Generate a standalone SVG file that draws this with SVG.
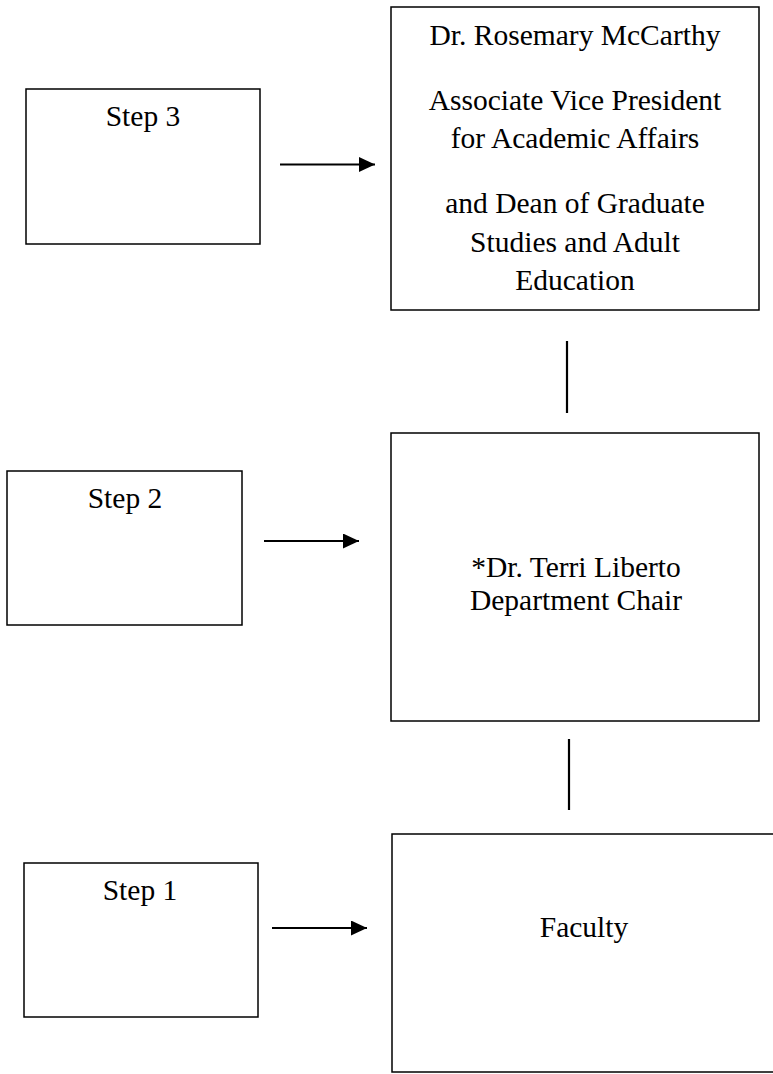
<svg xmlns="http://www.w3.org/2000/svg" width="773" height="1074" viewBox="0 0 773 1074">
<style>
.box{fill:#fff;stroke:#000;stroke-width:1.5}
.t{font-family:"Liberation Serif","Times New Roman",serif;font-size:29.5px;fill:#000;text-anchor:middle}
.c{stroke:#000;stroke-width:2.2;fill:none}
</style>
<defs>
<marker id="ah" viewBox="0 0 16 15" refX="16" refY="7.5" markerWidth="16" markerHeight="15" markerUnits="userSpaceOnUse" orient="auto">
<path d="M0,0 L16,7.5 L0,15 Z" fill="#000"/>
</marker>
</defs>
<rect width="773" height="1074" fill="#fff"/>
<g id="step3">
<rect class="box" x="26" y="89" width="234" height="155"/>
<text class="t" x="143" y="126">Step 3</text>
</g>
<g id="dean">
<rect class="box" x="391" y="7" width="368" height="303"/>
<text class="t" x="575" y="45">Dr. Rosemary McCarthy</text>
<text class="t" x="575" y="110">Associate Vice President</text>
<text class="t" x="575" y="148">for Academic Affairs</text>
<text class="t" x="575" y="213">and Dean of Graduate</text>
<text class="t" x="575" y="252">Studies and Adult</text>
<text class="t" x="575" y="290">Education</text>
</g>
<g id="step2">
<rect class="box" x="7" y="471" width="235" height="154"/>
<text class="t" x="125" y="508">Step 2</text>
</g>
<g id="chair">
<rect class="box" x="391" y="433" width="368" height="288"/>
<text class="t" x="576" y="577">*Dr. Terri Liberto</text>
<text class="t" x="576" y="610">Department Chair</text>
</g>
<g id="step1">
<rect class="box" x="24" y="863" width="234" height="154"/>
<text class="t" x="140" y="900">Step 1</text>
</g>
<g id="faculty">
<rect class="box" x="392" y="834" width="400" height="238"/>
<text class="t" x="584" y="937">Faculty</text>
</g>
<g id="connectors">
<line class="c" x1="280" y1="164.5" x2="375" y2="164.5" marker-end="url(#ah)"/>
<line class="c" x1="264" y1="541" x2="359" y2="541" marker-end="url(#ah)"/>
<line class="c" x1="272" y1="928" x2="367" y2="928" marker-end="url(#ah)"/>
<line class="c" x1="567" y1="341" x2="567" y2="413"/>
<line class="c" x1="569" y1="739" x2="569" y2="810"/>
</g>
</svg>
